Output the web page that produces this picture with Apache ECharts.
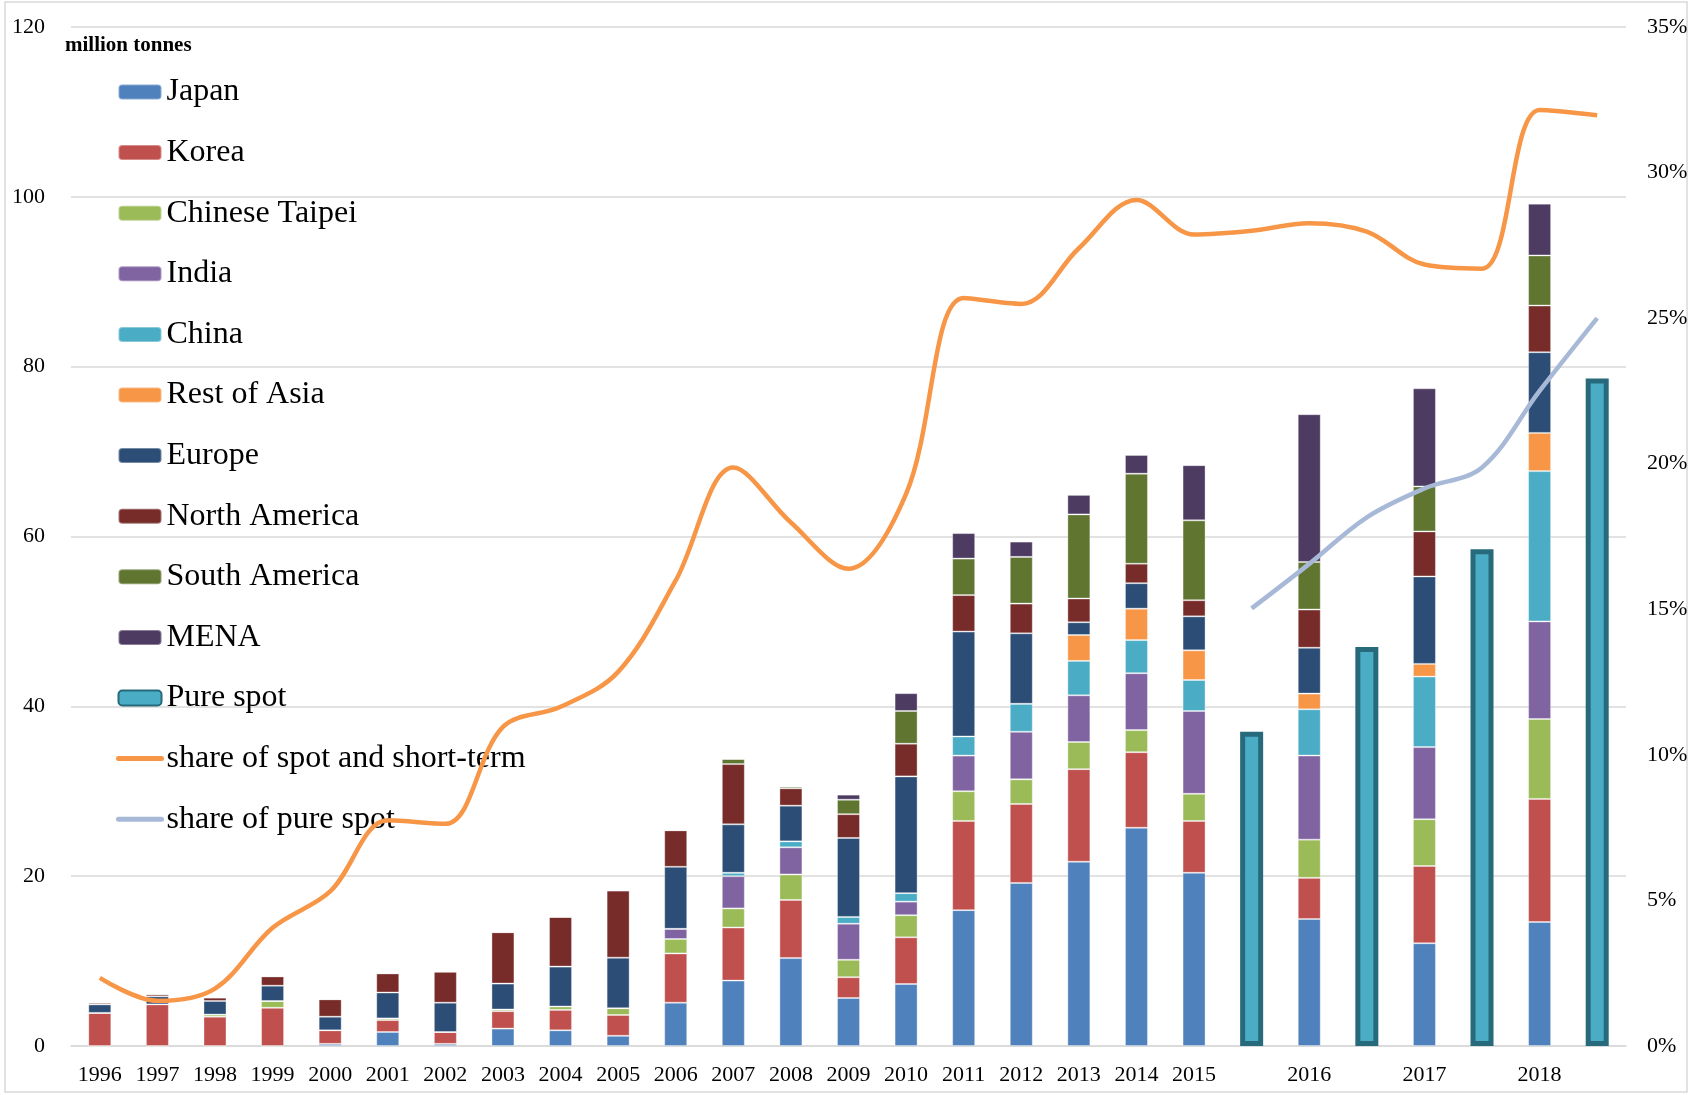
<!DOCTYPE html>
<html>
<head>
<meta charset="utf-8">
<title>LNG spot and short-term trade</title>
<script src="https://cdn.jsdelivr.net/npm/echarts@6/dist/echarts.min.js"></script>
<style>
  html, body { margin: 0; padding: 0; background: #fff; }
  #chart { width: 1691px; height: 1095px; }
</style>
</head>
<body>
<div id="chart"></div>
<script>
  // categories: 1996..2015, then a pure spot slot after each year from 2015 on
  const categories = ['1996', '1997', '1998', '1999', '2000', '2001', '2002', '2003', '2004', '2005',
    '2006', '2007', '2008', '2009', '2010', '2011', '2012', '2013', '2014', '2015',
    '', '2016', '', '2017', '', '2018', ''];

  // million tonnes, by importing region
  const japan = [0, 0, 0, 0, 0.25, 1.65, 0.25, 2.05, 1.85, 1.2, 5.1, 7.7, 10.35, 5.65, 7.3, 16.0, 19.2, 21.7, 25.7, 20.4,
    null, 14.95, null, 12.1, null, 14.6, null];
  const korea = [3.9, 4.9, 3.45, 4.5, 1.6, 1.4, 1.4, 2.05, 2.4, 2.45, 5.8, 6.25, 6.85, 2.45, 5.5, 10.5, 9.3, 10.9, 8.9, 6.1,
    null, 4.85, null, 9.1, null, 14.5, null];
  const taipei = [0, 0, 0.25, 0.8, 0, 0.2, 0, 0.2, 0.4, 0.8, 1.7, 2.25, 3.0, 2.05, 2.6, 3.5, 2.9, 3.2, 2.6, 3.2,
    null, 4.5, null, 5.5, null, 9.4, null];
  const india = [0, 0, 0, 0, 0, 0, 0, 0, 0, 0, 1.2, 3.8, 3.2, 4.25, 1.6, 4.2, 5.6, 5.5, 6.7, 9.75,
    null, 9.9, null, 8.5, null, 11.5, null];
  const china = [0, 0, 0, 0, 0, 0, 0, 0, 0, 0, 0, 0.4, 0.7, 0.8, 1.0, 2.25, 3.3, 4.05, 3.9, 3.65,
    null, 5.45, null, 8.3, null, 17.7, null];
  const restOfAsia = [0, 0, 0, 0, 0, 0, 0, 0, 0, 0, 0, 0, 0, 0, 0, 0, 0, 3.05, 3.7, 3.5,
    null, 1.85, null, 1.5, null, 4.5, null];
  const europe = [1.0, 0.95, 1.6, 1.8, 1.6, 3.05, 3.45, 3.05, 4.7, 5.95, 7.3, 5.7, 4.2, 9.3, 13.75, 12.35, 8.3, 1.5, 3.0, 4.0,
    null, 5.4, null, 10.3, null, 9.5, null];
  const northAmerica = [0.2, 0.25, 0.4, 1.1, 2.05, 2.25, 3.65, 6.05, 5.85, 7.9, 4.3, 7.1, 2.05, 2.8, 3.85, 4.3, 3.5, 2.8, 2.3, 1.9,
    null, 4.5, null, 5.3, null, 5.5, null];
  const southAmerica = [0, 0, 0, 0, 0, 0, 0, 0, 0, 0, 0, 0.6, 0.2, 1.7, 3.85, 4.3, 5.5, 9.9, 10.6, 9.4,
    null, 5.6, null, 5.3, null, 5.9, null];
  const mena = [0, 0, 0, 0, 0, 0, 0, 0, 0, 0, 0, 0, 0, 0.6, 2.1, 3.0, 1.8, 2.3, 2.2, 6.5,
    null, 17.4, null, 11.55, null, 6.1, null];
  const pureSpot = [null, null, null, null, null, null, null, null, null, null,
    null, null, null, null, null, null, null, null, null, null,
    37.0, null, 47.0, null, 58.5, null, 78.6];

  // percent, right axis
  const spotShare = [2.34, 1.55, 1.97, 4.06, 5.31, 7.75, 7.63, 10.96, 11.65, 12.85, 15.99, 19.87, 17.98, 16.39, 18.96,
    25.69, 25.49, 27.4, 29.06, 27.87, 28.0, 28.26, 27.97, 26.84, 26.7, 32.15, 31.97];
  const pureSpotShare = [null, null, null, null, null, null, null, null, null, null,
    null, null, null, null, null, null, null, null, null, null,
    15.03, 16.56, 18.16, 19.15, 19.87, 22.5, 25.0];

  const font = '"Liberation Serif", "DejaVu Serif", serif';

  const regions = [
    ['Japan', japan, '#4F81BD'],
    ['Korea', korea, '#C0504D'],
    ['Chinese Taipei', taipei, '#9BBB59'],
    ['India', india, '#8064A2'],
    ['China', china, '#4BACC6'],
    ['Rest of Asia', restOfAsia, '#F79646'],
    ['Europe', europe, '#2C4D75'],
    ['North America', northAmerica, '#772C2A'],
    ['South America', southAmerica, '#5F7530'],
    ['MENA', mena, '#4D3B62']
  ];

  let series = regions.map(function (r) {
    return {
      name: r[0],
      type: 'bar',
      stack: 'total',
      barWidth: 23,
      data: r[1],
      itemStyle: { color: r[2], borderColor: 'rgba(255,255,255,0.35)', borderWidth: 1 }
    };
  });

  series.push({
    name: 'Pure spot',
    type: 'bar',
    stack: 'total',
    barWidth: 23,
    data: pureSpot,
    itemStyle: { color: '#4BACC6', borderColor: '#276A7C', borderWidth: 5 }
  });

  series.push({
    name: 'share of spot and short-term',
    type: 'line',
    yAxisIndex: 1,
    smooth: 0.35,
    symbol: 'none',
    data: spotShare,
    z: 5,
    lineStyle: { color: '#F79646', width: 4.5 },
    itemStyle: { color: '#F79646' }
  });

  series.push({
    name: 'share of pure spot',
    type: 'line',
    yAxisIndex: 1,
    smooth: 0.35,
    symbol: 'none',
    data: pureSpotShare,
    z: 5,
    lineStyle: { color: '#A7B9D7', width: 4.5 },
    itemStyle: { color: '#A7B9D7' }
  });

  // legend entries; the two lines get no marker, only a thick stroke
  let legendData = series.map(function (s) {
    if (s.type === 'line') {
      return { name: s.name, itemStyle: { opacity: 0 }, lineStyle: { width: 5, cap: 'round' } };
    }
    return { name: s.name };
  });

  let chart = echarts.init(document.getElementById('chart'));
  chart.setOption({
    animation: false,
    backgroundColor: '#fff',
    title: {
      text: 'million tonnes',
      left: 60,
      top: 30,
      textStyle: { fontFamily: font, fontSize: 21, fontWeight: 'bold', color: '#000' }
    },
    legend: {
      orient: 'vertical',
      left: 111,
      top: 71,
      itemWidth: 43,
      itemHeight: 15,
      itemGap: 28.6,
      lineStyle: { width: 5 },
      textStyle: { fontFamily: font, fontSize: 32, lineHeight: 32, color: '#000' },
      data: legendData
    },
    grid: { left: 71, right: 65, top: 27, bottom: 49 },
    xAxis: {
      type: 'category',
      data: categories,
      axisTick: { show: false },
      axisLine: { lineStyle: { color: '#D9D9D9', width: 1.5 } },
      axisLabel: { interval: 0, margin: 18, fontFamily: font, fontSize: 22, color: '#000' }
    },
    yAxis: [{
      type: 'value',
      min: 0,
      max: 120,
      interval: 20,
      axisLine: { show: false },
      axisTick: { show: false },
      splitLine: { lineStyle: { color: '#D9D9D9', width: 1.5 } },
      axisLabel: { margin: 26, fontFamily: font, fontSize: 22, color: '#000' }
    }, {
      type: 'value',
      min: 0,
      max: 35,
      interval: 5,
      position: 'right',
      axisLine: { show: false },
      axisTick: { show: false },
      splitLine: { show: false },
      axisLabel: { margin: 21, formatter: '{value}%', fontFamily: font, fontSize: 22, color: '#000' }
    }],
    graphic: [{
      type: 'rect',
      shape: { x: 5, y: 2, width: 1682, height: 1090 },
      style: { fill: 'none', stroke: '#D9D9D9', lineWidth: 1.5 },
      silent: true
    }],
    series: series
  });
</script>
</body>
</html>
